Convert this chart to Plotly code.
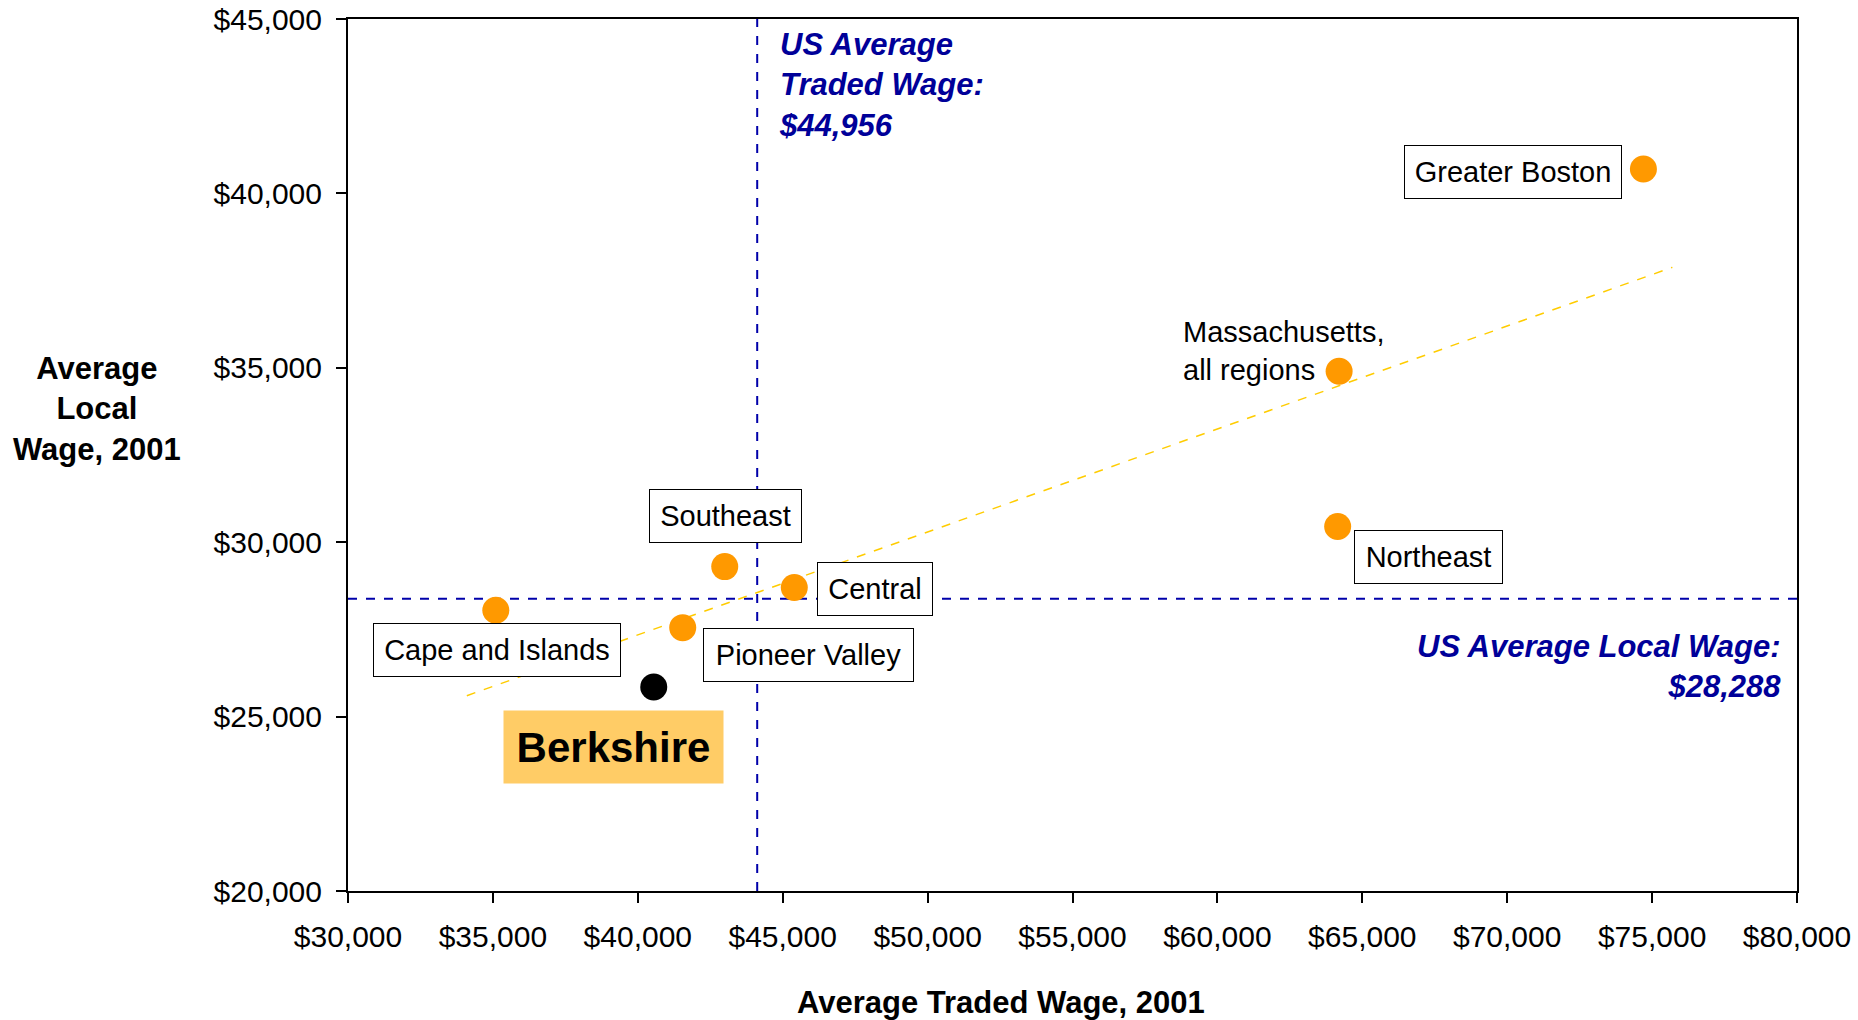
import plotly.graph_objects as go

# ===============================
# DATA
# ===============================
regions = ["Greater Boston", "Massachusetts, all regions", "Northeast", "Southeast",
           "Central", "Cape and Islands", "Pioneer Valley", "Berkshire"]
traded_wage = [74700, 64200, 64150, 43000, 45400, 35100, 41550, 40550]
local_wage = [40700, 34900, 30450, 29300, 28700, 28050, 27550, 25850]
point_colors = ["#FF9900"] * 7 + ["#000000"]

# Excel-style linear trend line endpoints
trend_x = [34100, 75700]
trend_y = [25600, 37880]

# US averages (line positions as drawn, labels as printed)
us_traded_line = 44120
us_local_line = 28380
us_traded_label = "$44,956"
us_local_label = "$28,288"

x_ticks = list(range(30000, 80001, 5000))
y_ticks = list(range(20000, 45001, 5000))

FONT = "Arial, Liberation Sans, sans-serif"
BLUE = "#000099"

fig = go.Figure()

# reference lines
fig.add_trace(go.Scatter(
    x=[us_traded_line, us_traded_line], y=[20000, 45000], mode="lines",
    line=dict(color="#0000AA", width=2, dash="dash"), hoverinfo="skip"
))
fig.add_trace(go.Scatter(
    x=[30000, 80000], y=[us_local_line, us_local_line], mode="lines",
    line=dict(color="#0000AA", width=2, dash="dash"), hoverinfo="skip"
))

# trend line
fig.add_trace(go.Scatter(
    x=trend_x, y=trend_y, mode="lines",
    line=dict(color="#FFCC00", width=1.5, dash="dash"), hoverinfo="skip"
))

# regions
fig.add_trace(go.Scatter(
    x=traded_wage, y=local_wage, mode="markers", text=regions,
    marker=dict(color=point_colors, size=27, line=dict(width=0))
))

# ===============================
# LABELS
# ===============================
boxed = [
    ("Greater Boston", 70200, 40620, 216),
    ("Northeast", 67270, 29580, 147),
    ("Southeast", 43010, 30750, 151),
    ("Central", 48190, 28660, 114),
    ("Cape and Islands", 35140, 26910, 246),
    ("Pioneer Valley", 45880, 26770, 209),
]
annotations = []
for txt, ax_, ay_, w in boxed:
    annotations.append(dict(
        x=ax_, y=ay_, xref="x", yref="y", text=txt, showarrow=False,
        xanchor="center", yanchor="middle",
        font=dict(family=FONT, size=29, color="black"),
        bordercolor="black", borderwidth=1, borderpad=0,
        bgcolor="white", width=w, height=52
    ))

annotations.append(dict(
    x=39150, y=24130, xref="x", yref="y", text="<b>Berkshire</b>", showarrow=False,
    xanchor="center", yanchor="middle",
    font=dict(family=FONT, size=42, color="black"),
    bgcolor="#FFCC66", width=217, height=70
))
annotations.append(dict(
    x=58740, y=35480, xref="x", yref="y", xanchor="left", yanchor="middle", align="left",
    text="Massachusetts,<br>all regions", showarrow=False,
    font=dict(family=FONT, size=29, color="black")
))
annotations.append(dict(
    x=44800, y=44830, xref="x", yref="y", xanchor="left", yanchor="top", align="left",
    text="<b><i>US Average<br>Traded Wage:<br>" + us_traded_label + "</i></b>", showarrow=False,
    font=dict(family=FONT, size=31, color=BLUE)
))
annotations.append(dict(
    x=79500, y=26450, xref="x", yref="y", xanchor="right", yanchor="middle", align="right",
    text="<b><i>US Average Local Wage:<br>" + us_local_label + "</i></b>", showarrow=False,
    font=dict(family=FONT, size=31, color=BLUE)
))

# axis titles
annotations.append(dict(
    x=0.4507, y=-0.128, xref="paper", yref="paper", showarrow=False,
    xanchor="center", yanchor="middle",
    text="<b>Average Traded Wage, 2001</b>",
    font=dict(family=FONT, size=31, color="black")
))
annotations.append(dict(
    x=-0.173, y=0.553, xref="paper", yref="paper", showarrow=False,
    xanchor="center", yanchor="middle",
    text="<b>Average<br>Local<br>Wage, 2001</b>",
    font=dict(family=FONT, size=31, color="black")
))

axis_common = dict(
    showgrid=False, zeroline=False, showline=True, linecolor="black", linewidth=2,
    mirror=True, ticks="outside", ticklen=10, tickwidth=2, tickcolor="black",
    tickfont=dict(family=FONT, size=30, color="black"), automargin=False,
    ticklabeloverflow="allow", ticklabelstandoff=8,
)

fig.update_layout(
    width=1858, height=1020,
    margin=dict(l=348, r=61, t=19, b=129),
    plot_bgcolor="white", paper_bgcolor="white",
    showlegend=False,
    annotations=annotations,
    xaxis=dict(range=[30000, 80000], tickvals=x_ticks,
               ticktext=[f"${v:,}" for v in x_ticks], **axis_common),
    yaxis=dict(range=[20000, 45000], tickvals=y_ticks,
               ticktext=[f"${v:,}" for v in y_ticks], **axis_common),
)

# drop the default 8px body margin so the figure fills the window
fig.write_html("out.html", config={"displayModeBar": False},
               post_script="document.body.style.margin='0';")
